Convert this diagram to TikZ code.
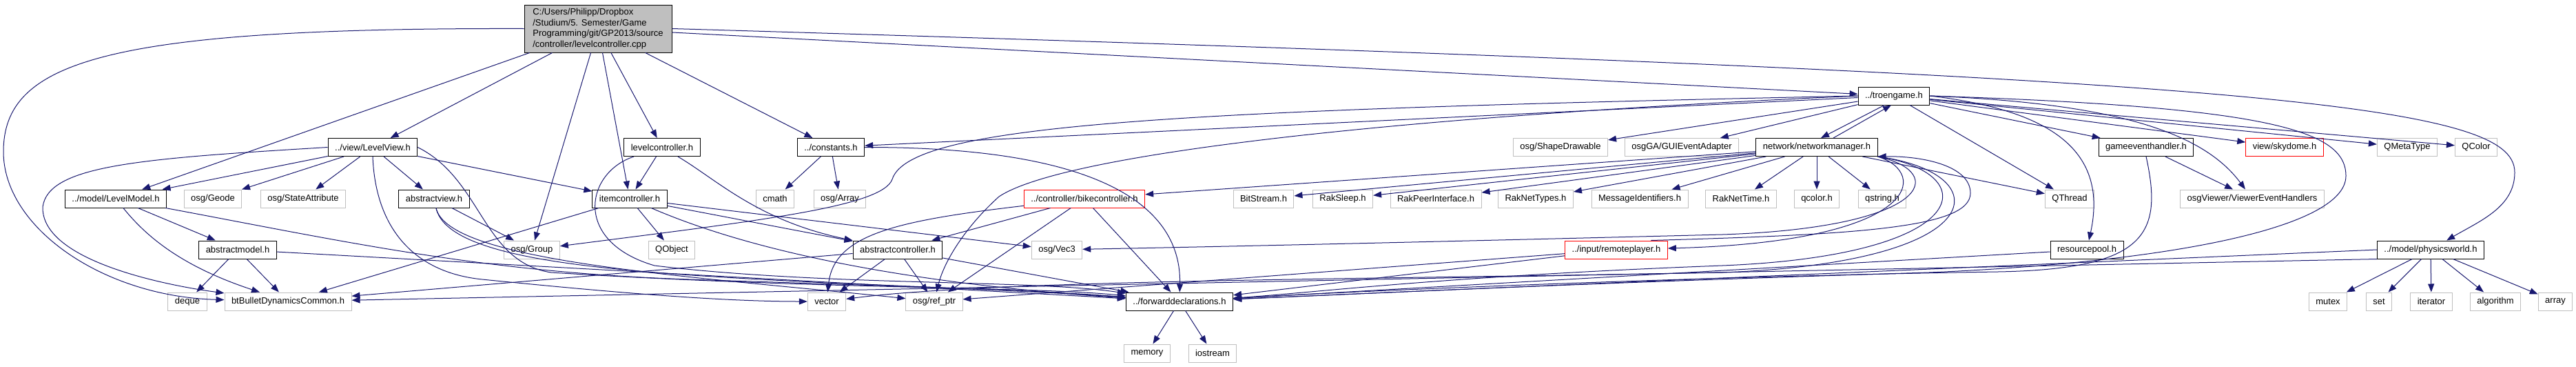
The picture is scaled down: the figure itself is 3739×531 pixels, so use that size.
\documentclass[tikz,border=0pt]{standalone}
\usepackage{fontspec}
\setmainfont{Liberation Sans}
\usetikzlibrary{arrows.meta}
\definecolor{edgeblue}{HTML}{191970}
\definecolor{sysgray}{HTML}{BFBFBF}
\definecolor{rootgray}{HTML}{BFBFBF}

\begin{document}
\begin{tikzpicture}[x=1pt,y=-1pt,
 hdr/.style={draw=black,fill=white,line width=1pt,minimum height=26pt,
 inner xsep=10pt,inner ysep=0pt,font=\fontsize{13}{15.5}\selectfont},
 sys/.style={hdr,draw=sysgray},
 miss/.style={hdr,draw=red},
 inc/.style={-{Triangle[length=12pt,width=9pt]},draw=edgeblue,line width=1pt}]
\fill[white] (0,0) rectangle (3739,531);
\useasboundingbox (0,0) rectangle (3739,531);
\node[hdr,fill=rootgray,align=left,minimum width=214pt,minimum height=69pt] (root) at (868,41.5)
 {C:/Users/Philipp/Dropbox\\/Studium/5. Semester/Game\\ Programming/git/GP2013/source\\/controller/levelcontroller.cpp};
\node[hdr] (troen) at (2749,139) {../troengame.h};
\node[hdr] (lview) at (541,213.5) {../view/LevelView.h};
\node[hdr] (lctrl) at (961,213.5) {levelcontroller.h};
\node[hdr] (consts) at (1206,213.5) {../constants.h};
\node[sys] (shape) at (2265,213.5) {osg/ShapeDrawable};
\node[sys] (guiev) at (2441,213.5) {osgGA/GUIEventAdapter};
\node[hdr] (netman) at (2637,213.5) {network/networkmanager.h};
\node[hdr] (gameev) at (3115,213.5) {gameeventhandler.h};
\node[miss] (skydome) at (3316,213.5) {view/skydome.h};
\node[sys] (qmeta) at (3494,213.5) {QMetaType};
\node[sys] (qcolorcls) at (3594,213.5) {QColor};
\node[hdr] (lmodel) at (168,288) {../model/LevelModel.h};
\node[sys] (geode) at (309,288) {osg/Geode};
\node[sys] (stateattr) at (440,288) {osg/StateAttribute};
\node[hdr] (aview) at (630,288) {abstractview.h};
\node[hdr] (ictrl) at (914,288) {itemcontroller.h};
\node[sys] (cmath) at (1125,288) {cmath};
\node[sys] (osgarray) at (1219,288) {osg/Array};
\node[miss] (bike) at (1574,288) {../controller/bikecontroller.h};
\node[sys] (bitstream) at (1834,288) {BitStream.h};
\node[sys] (raksleep) at (1949,288) {RakSleep.h};
\node[sys] (rakpeer) at (2084,288) {RakPeerInterface.h};
\node[sys] (raktypes) at (2229,288) {RakNetTypes.h};
\node[sys] (msgids) at (2380,288) {MessageIdentifiers.h};
\node[sys] (raktime) at (2527,288) {RakNetTime.h};
\node[sys] (qcolorh) at (2637,288) {qcolor.h};
\node[sys] (qstring) at (2732,288) {qstring.h};
\node[sys] (qthread) at (3004,288) {QThread};
\node[sys] (viewerev) at (3269,288) {osgViewer/ViewerEventHandlers};
\node[hdr] (amodel) at (345,362) {abstractmodel.h};
\node[sys] (group) at (772,362) {osg/Group};
\node[sys] (qobject) at (975,362) {QObject};
\node[hdr] (actrl) at (1303,362) {abstractcontroller.h};
\node[sys] (vec) at (1534,362) {osg/Vec3};
\node[miss] (remote) at (2346,362) {../input/remoteplayer.h};
\node[hdr] (respool) at (3029,362) {resourcepool.h};
\node[hdr] (physics) at (3528,362) {../model/physicsworld.h};
\node[sys] (deque) at (272,437) {deque};
\node[sys] (bullet) at (418,437) {btBulletDynamicsCommon.h};
\node[sys] (vector) at (1200,437) {vector};
\node[sys] (refptr) at (1356,437) {osg/ref\_ptr};
\node[hdr] (fwd) at (1712,437) {../forwarddeclarations.h};
\node[sys] (mutex) at (3379,437) {mutex};
\node[sys] (set) at (3453,437) {set};
\node[sys] (iter) at (3529,437) {iterator};
\node[sys] (algo) at (3622,437) {algorithm};
\node[sys] (array) at (3709,437) {array};
\node[sys] (memory) at (1665,512) {memory};
\node[sys] (iostream) at (1760,512) {iostream};
\draw[inc] (root) -- (lview);
\draw[inc] (root) -- (lmodel);
\draw[inc] (root.west) .. controls (150,40) and (5,90) .. (5,220) .. controls (5,330) and (150,430) .. (bullet);
\draw[inc] (root) -- (group);
\draw[inc] (root) -- (ictrl);
\draw[inc] (root) -- (lctrl);
\draw[inc] (root) -- (consts);
\draw[inc] (root) -- (troen);
\draw[inc] (root.east) .. controls (3300,110) and (3650,150) .. (3650,250) .. controls (3650,300) and (3600,320) .. (physics);
\draw[inc] (lview) -- (lmodel);
\draw[inc] (lview) -- (geode);
\draw[inc] (lview) -- (stateattr);
\draw[inc] (lview) -- (aview);
\draw[inc] (lview) -- (ictrl);
\draw[inc] (lview.west) .. controls (200,230) and (70,240) .. (62,300) .. controls (60,380) and (250,415) .. (bullet);
\draw[inc] (lview.south) .. controls (545,330) and (600,395) .. (700,405) .. controls (900,425) and (1050,437) .. (vector);
\draw[inc] (lview.east) .. controls (700,260) and (700,380) .. (800,395) .. controls (1200,420) and (1500,415) .. (fwd);
\draw[inc] (lmodel) -- (amodel);
\draw[inc] (lmodel) .. controls (210,340) and (260,385) .. (bullet);
\draw[inc] (lmodel) .. controls (500,350) and (700,395) .. (1000,405) .. controls (1300,415) and (1500,420) .. (fwd);
\draw[inc] (amodel) -- (deque);
\draw[inc] (amodel) -- (bullet);
\draw[inc] (amodel) -- (fwd);
\draw[inc] (aview) -- (group);
\draw[inc] (aview) .. controls (650,380) and (1000,400) .. (refptr);
\draw[inc] (aview) .. controls (650,380) and (900,395) .. (1200,410) .. controls (1400,418) and (1550,425) .. (fwd);
\draw[inc] (lctrl) -- (ictrl);
\draw[inc] (lctrl) .. controls (1040,260) and (1100,320) .. (actrl);
\draw[inc] (lctrl) .. controls (850,250) and (830,350) .. (950,385) .. controls (1200,415) and (1500,405) .. (fwd);
\draw[inc] (ictrl) -- (qobject);
\draw[inc] (ictrl) -- (actrl);
\draw[inc] (ictrl) -- (bullet);
\draw[inc] (ictrl) -- (vec);
\draw[inc] (ictrl) .. controls (1150,390) and (1450,420) .. (fwd);
\draw[inc] (consts) -- (cmath);
\draw[inc] (consts) -- (osgarray);
\draw[inc] (consts.east) .. controls (1600,213) and (1715,300) .. (fwd);
\draw[inc] (actrl) -- (refptr);
\draw[inc] (actrl) -- (vector);
\draw[inc] (actrl) -- (fwd);
\draw[inc] (actrl) -- (bullet);
\draw[inc] (bike) -- (actrl);
\draw[inc] (bike) -- (refptr);
\draw[inc] (bike) -- (fwd);
\draw[inc] (bike) .. controls (1300,320) and (1210,340) .. (vector);
\draw[inc] (troen) -- (consts);
\draw[inc] (troen.west) .. controls (1700,160) and (1320,180) .. (1295,260) .. controls (1280,300) and (1100,320) .. (group);
\draw[inc] (troen.west) .. controls (2000,170) and (1540,225) .. (1450,285) .. controls (1400,330) and (1370,380) .. (refptr);
\draw[inc] (troen) -- (shape);
\draw[inc] (troen) -- (guiev);
\draw[inc] ([xshift=-14pt]troen.south) -- ([xshift=6pt]netman.north);
\draw[inc] (troen) -- (qthread);
\draw[inc] (troen) -- (gameev);
\draw[inc] (troen) -- (skydome);
\draw[inc] (troen) -- (qmeta);
\draw[inc] (troen) -- (qcolorcls);
\draw[inc] (troen.east) .. controls (3080,150) and (3200,195) .. (viewerev);
\draw[inc] (troen.east) .. controls (2980,160) and (3060,220) .. (respool);
\draw[inc] (troen.east) .. controls (3300,155) and (3405,190) .. (3405,255) .. controls (3405,330) and (3150,380) .. (2800,395) .. controls (2300,410) and (2000,425) .. (fwd);
\draw[inc] ([xshift=24pt]netman.north) -- ([xshift=-4pt]troen.south);
\draw[inc] (netman) -- (bitstream);
\draw[inc] (netman) -- (raksleep);
\draw[inc] (netman) -- (rakpeer);
\draw[inc] (netman) -- (raktypes);
\draw[inc] (netman) -- (msgids);
\draw[inc] (netman) -- (raktime);
\draw[inc] (netman) -- (qcolorh);
\draw[inc] (netman) -- (qstring);
\draw[inc] (netman) -- (qthread);
\draw[inc] (netman) -- (bike);
\draw[inc] (netman.south east) .. controls (2800,250) and (2790,350) .. (remote);
\draw[inc] (netman.south east) .. controls (2830,250) and (2800,330) .. (2500,340) .. controls (2100,350) and (1800,357) .. (vec);
\draw[inc] (netman.south east) .. controls (2900,250) and (2900,380) .. (2500,395) .. controls (2000,405) and (1450,405) .. (vector);
\draw[inc] (netman.south east) .. controls (2880,250) and (2870,370) .. (2500,385) .. controls (2100,400) and (1900,425) .. (fwd);
\draw[inc] (remote.15) .. controls (2700,340) and (2860,330) .. (2860,280) .. controls (2860,240) and (2790,226) .. (netman.south east);
\draw[inc] (remote) -- (fwd);
\draw[inc] (remote) -- (refptr);
\draw[inc] (gameev) -- (viewerev);
\draw[inc] (gameev.south) .. controls (3140,340) and (3115,390) .. (2900,394) .. controls (2500,400) and (2000,420) .. (fwd);
\draw[inc] (respool) -- (fwd);
\draw[inc] (physics) -- (mutex);
\draw[inc] (physics) -- (set);
\draw[inc] (physics) -- (iter);
\draw[inc] (physics) -- (algo);
\draw[inc] (physics) -- (array);
\draw[inc] (physics.west) -- (fwd);
\draw[inc] (physics.south west) -- (bullet);
\draw[inc] (fwd) -- (memory);
\draw[inc] (fwd) -- (iostream);
\end{tikzpicture}
\end{document}
